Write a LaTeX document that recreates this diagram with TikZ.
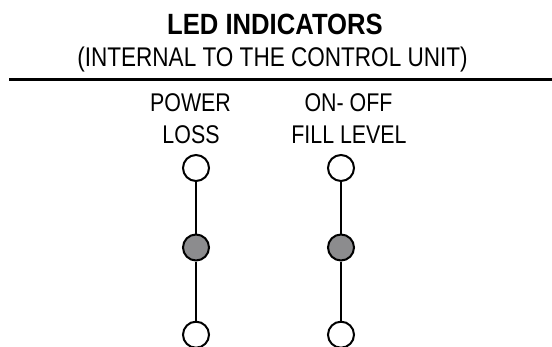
\documentclass[tikz,border=0pt]{standalone}
\usepackage{fontspec}
\setmainfont[FakeStretch=0.835]{Liberation Sans}
\newfontfamily\titlefont[FakeStretch=0.875]{Liberation Sans}
\definecolor{ledgray}{RGB}{140,140,142}
\tikzset{
  led/.style={circle, draw=black, line width=2pt, minimum size=26pt, inner sep=0pt, fill=white},
  ledon/.style={led, fill=ledgray},
  wire/.style={draw=black, line width=2pt},
  txt/.style={anchor=base, inner sep=0pt, font=\fontsize{25.6}{26}\selectfont},
}
\begin{document}
\begin{tikzpicture}[x=1pt,y=1pt]
\useasboundingbox (0,0) rectangle (552,-346);
\clip (0,0) rectangle (552,-346);
% headings
\node[anchor=base, inner sep=0pt, font=\titlefont\bfseries\fontsize{29.3}{30}\selectfont] (title) at (275,-34.3) {LED INDICATORS};
\node[anchor=base, inner sep=0pt, font=\fontsize{27}{28}\selectfont] (sub) at (272.5,-66.7) {(INTERNAL TO THE CONTROL UNIT)};
\coordinate (rl) at (9,-79.7);
\coordinate (rr) at (552,-79.7);
\draw[line width=2.6pt] (rl) -- (rr);
% labels
\node[txt] (p1) at (190.5,-111.7) {POWER};
\node[txt] (p2) at (191,-143.3) {LOSS};
\node[txt] (f1) at (348.5,-111.7) {ON- OFF};
\node[txt] (f2) at (349,-143.3) {FILL LEVEL};
% LEDs
\node[led]   (a1) at (196,-168) {};
\node[ledon] (a2) at (196,-247.5) {};
\node[led]   (a3) at (196,-334.7) {};
\node[led]   (b1) at (341,-168) {};
\node[ledon] (b2) at (341,-247.5) {};
\node[led]   (b3) at (341,-334.7) {};
\draw[wire] (a1) -- (a2);
\draw[wire] (a2) -- (a3);
\draw[wire] (b1) -- (b2);
\draw[wire] (b2) -- (b3);
\end{tikzpicture}
\end{document}
